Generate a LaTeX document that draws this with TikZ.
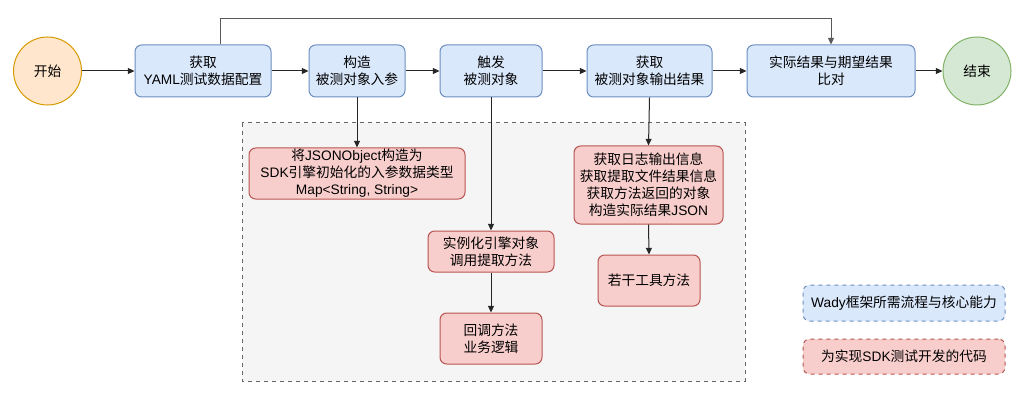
\documentclass[tikz,border=0pt]{standalone}
\usepackage{fontspec}
\setmainfont{Noto Sans CJK SC}
\newfontfamily\lat{Liberation Sans}
\usetikzlibrary{arrows.meta}
\definecolor{bfill}{HTML}{DAE8FC}
\definecolor{bline}{HTML}{6C8EBF}
\definecolor{rfill}{HTML}{F8CECC}
\definecolor{rline}{HTML}{B85450}
\definecolor{ofill}{HTML}{FFE6CC}
\definecolor{oline}{HTML}{D79B00}
\definecolor{gfill}{HTML}{D5E8D4}
\definecolor{gline}{HTML}{82B366}
\definecolor{cfill}{HTML}{F5F5F5}
\definecolor{cline}{HTML}{666666}
\tikzset{
  base/.style={font=\fontsize{10.3pt}{12.75pt}\selectfont, align=center, inner sep=0pt, line width=0.75pt, rounded corners=5pt},
  sz/.style 2 args={minimum width=#1*0.75pt, minimum height=#2*0.75pt},
  bluebox/.style={base, draw=bline, fill=bfill},
  redbox/.style={base, draw=rline, fill=rfill},
  circ/.style={base, circle, minimum size=51pt},
  arr/.style={-{Triangle[length=5pt,width=4.5pt]}, line width=0.75pt, draw=black!85}
}
\begin{document}
\begin{tikzpicture}[x=0.75pt, y=-0.75pt]
\useasboundingbox (0,0) rectangle (1023,406);
\fill[white] (0,0) rectangle (1023,406);
% container
\draw[cline, fill=cfill, dashed, line width=0.75pt] (242,123) rectangle (745,381);
% top row
\node[circ, draw=oline, fill=ofill] (start) at (47.5,71) {开始};
\node[bluebox, sz={136}{52}] (b1) at (203,71) {获取\\{\lat YAML}测试数据配置};
\node[bluebox, sz={96}{52}] (b2) at (357,71) {构造\\被测对象入参};
\node[bluebox, sz={102}{52}] (b3) at (491,71) {触发\\被测对象};
\node[bluebox, sz={125}{52}] (b4) at (649.5,71) {获取\\被测对象输出结果};
\node[bluebox, sz={168}{52}] (b5) at (831,71) {实际结果与期望结果\\比对};
\node[circ, draw=gline, fill=gfill] (end) at (977,71) {结束};
% lower boxes
\node[redbox, sz={216}{51}] (A) at (357,173.5) {将{\lat JSONObject}构造为\\{\lat SDK}引擎初始化的入参数据类型\\{\lat Map<String, String>}};
\node[redbox, sz={126}{41}] (B) at (491,251.5) {实例化引擎对象\\调用提取方法};
\node[redbox, sz={102}{51}] (C) at (491,338.5) {回调方法\\业务逻辑};
\node[redbox, sz={149}{78}] (D) at (648.5,185) {获取日志输出信息\\获取提取文件结果信息\\获取方法返回的对象\\构造实际结果{\lat JSON}};
\node[redbox, sz={102}{51}] (E) at (649,280.5) {若干工具方法};
% legend
\node[bluebox, dashed, sz={202}{36}] (L1) at (904,303) {{\lat Wady}框架所需流程与核心能力};
\node[redbox, dashed, sz={202}{35}] (L2) at (904,356.5) {为实现{\lat SDK}测试开发的代码};
% connectors
\draw[arr] (start) -- (b1);
\draw[arr] (b1) -- (b2);
\draw[arr] (b2) -- (b3);
\draw[arr] (b3) -- (b4);
\draw[arr] (b4) -- (b5);
\draw[arr] (b5) -- (end);
\draw[arr, draw=black!65] ([xshift=12.75pt]b1.north) -- ++(0,-26) -| (b5.north);
\draw[arr] (b2.south) -- (A.north);
\draw[arr] (b3.south) -- (B.north);
\draw[arr] (B.south) -- (C.north);
\draw[arr] (b4.south) -- (D.north);
\draw[arr] (D.south) -- (E.north);
\end{tikzpicture}
\end{document}
